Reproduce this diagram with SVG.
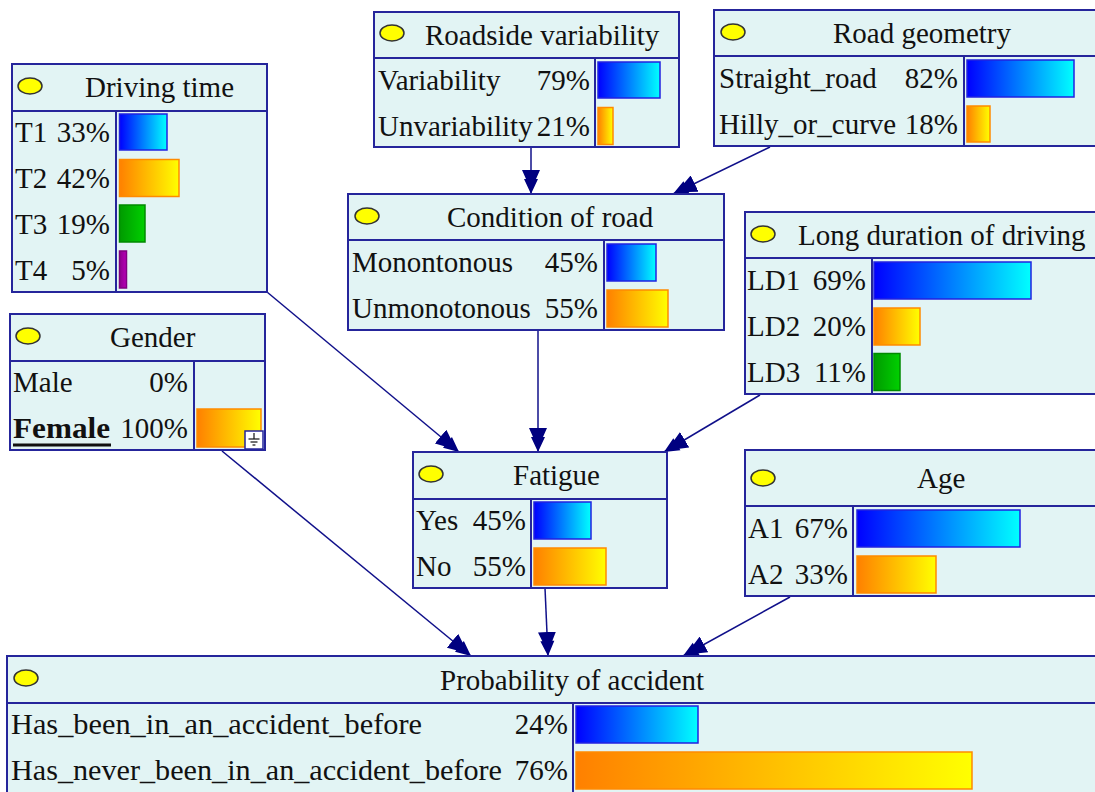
<svg xmlns="http://www.w3.org/2000/svg" width="1095" height="792" viewBox="0 0 1095 792">
<defs>
<linearGradient id="gb" x1="0" y1="0" x2="1" y2="0"><stop offset="0" stop-color="#0000ff"/><stop offset="1" stop-color="#00ffff"/></linearGradient>
<linearGradient id="go" x1="0" y1="0" x2="1" y2="0"><stop offset="0" stop-color="#ff8000"/><stop offset="1" stop-color="#ffff00"/></linearGradient>
<linearGradient id="gg" x1="0" y1="0" x2="1" y2="0"><stop offset="0" stop-color="#009a00"/><stop offset="1" stop-color="#00d000"/></linearGradient>
<linearGradient id="gp" x1="0" y1="0" x2="1" y2="0"><stop offset="0" stop-color="#8c008c"/><stop offset="1" stop-color="#b800b8"/></linearGradient>
<marker id="ah" markerUnits="userSpaceOnUse" viewBox="0 0 24 18" markerWidth="24" markerHeight="18" refX="24" refY="9" orient="auto">
<polygon points="0,0 9,4 9,2 24,9 9,16 9,14 0,18" fill="#000080"/>
</marker>
<style>
.box{fill:#e2f4f4;stroke:#25259b;stroke-width:2}
.dv{stroke:#25259b;stroke-width:2}
.t{font-family:"Liberation Serif","Times New Roman",serif;font-size:29px;fill:#111}
.e{text-anchor:end}
.ell{fill:#ffff00;stroke:#333333;stroke-width:1.5}
.b{fill:url(#gb);stroke:#2222e0;stroke-width:1.5}
.o{fill:url(#go);stroke:#ff8a00;stroke-width:1.5}
.g{fill:url(#gg);stroke:#008a00;stroke-width:1.5}
.p{fill:url(#gp);stroke:#800080;stroke-width:1.5}
.c{fill:none;stroke:#10108a;stroke-width:1.5;marker-end:url(#ah)}
</style>
</defs>
<rect width="1095" height="792" fill="#ffffff"/>

<g id="connectors">
<line class="c" x1="531" y1="147" x2="531" y2="194"/>
<line class="c" x1="770" y1="147" x2="673" y2="194"/>
<line class="c" x1="267" y1="292" x2="459" y2="452"/>
<line class="c" x1="538" y1="330" x2="538" y2="452"/>
<line class="c" x1="760" y1="395" x2="664" y2="452"/>
<line class="c" x1="222" y1="451" x2="471" y2="656"/>
<line class="c" x1="545" y1="588" x2="548" y2="656"/>
<line class="c" x1="790" y1="597" x2="683" y2="656"/>
</g>

<g id="driving-time">
<rect class="box" x="12" y="64" width="255" height="228"/>
<line class="dv" x1="12" y1="111" x2="267" y2="111"/>
<line class="dv" x1="116" y1="111" x2="116" y2="292"/>
<ellipse class="ell" cx="30" cy="86" rx="12" ry="8"/>
<text class="t" x="85" y="97">Driving time</text>
<text class="t" x="15" y="142">T1</text><text class="t e" x="110" y="142">33%</text>
<text class="t" x="15" y="188">T2</text><text class="t e" x="110" y="188">42%</text>
<text class="t" x="15" y="234">T3</text><text class="t e" x="110" y="234">19%</text>
<text class="t" x="15" y="280">T4</text><text class="t e" x="110" y="280">5%</text>
<rect class="b" x="119.5" y="114" width="47.5" height="36"/>
<rect class="o" x="119.5" y="159.5" width="59.5" height="37"/>
<rect class="g" x="119.5" y="205" width="25.5" height="37"/>
<rect class="p" x="119.5" y="251" width="7" height="37"/>
</g>

<g id="roadside-variability">
<rect class="box" x="374" y="12" width="305" height="135"/>
<line class="dv" x1="374" y1="58" x2="679" y2="58"/>
<line class="dv" x1="595" y1="58" x2="595" y2="147"/>
<ellipse class="ell" cx="392" cy="33" rx="12" ry="8"/>
<text class="t" x="425" y="45">Roadside variability</text>
<text class="t" x="378" y="90">Variability</text><text class="t e" x="590" y="90">79%</text>
<text class="t" x="378" y="136">Unvariability</text><text class="t e" x="590" y="136">21%</text>
<rect class="b" x="598" y="62" width="62" height="36"/>
<rect class="o" x="598" y="107.5" width="15" height="37"/>
</g>

<g id="road-geometry">
<rect class="box" x="714" y="10" width="400" height="136"/>
<line class="dv" x1="714" y1="56" x2="1114" y2="56"/>
<line class="dv" x1="964" y1="56" x2="964" y2="146"/>
<ellipse class="ell" cx="733" cy="32" rx="12" ry="8"/>
<text class="t" x="833" y="43">Road geometry</text>
<text class="t" x="719" y="88">Straight_road</text><text class="t e" x="958" y="88">82%</text>
<text class="t" x="719" y="134">Hilly_or_curve</text><text class="t e" x="958" y="134">18%</text>
<rect class="b" x="967" y="60" width="107" height="37"/>
<rect class="o" x="967" y="106" width="23" height="36"/>
</g>

<g id="condition-of-road">
<rect class="box" x="348" y="194" width="376" height="136"/>
<line class="dv" x1="348" y1="240" x2="724" y2="240"/>
<line class="dv" x1="604" y1="240" x2="604" y2="330"/>
<ellipse class="ell" cx="367" cy="216" rx="12" ry="8"/>
<text class="t" x="447" y="227">Condition of road</text>
<text class="t" x="352" y="272">Monontonous</text><text class="t e" x="598" y="272">45%</text>
<text class="t" x="352" y="318">Unmonotonous</text><text class="t e" x="598" y="318">55%</text>
<rect class="b" x="607" y="244" width="49" height="37"/>
<rect class="o" x="607" y="290" width="61" height="37"/>
</g>

<g id="long-duration-of-driving">
<rect class="box" x="745" y="212" width="400" height="182"/>
<line class="dv" x1="745" y1="258" x2="1145" y2="258"/>
<line class="dv" x1="872" y1="258" x2="872" y2="394"/>
<ellipse class="ell" cx="763" cy="234" rx="12" ry="8"/>
<text class="t" x="798" y="245">Long duration of driving</text>
<text class="t" x="747" y="290">LD1</text><text class="t e" x="866" y="290">69%</text>
<text class="t" x="747" y="336">LD2</text><text class="t e" x="866" y="336">20%</text>
<text class="t" x="747" y="382">LD3</text><text class="t e" x="866" y="382">11%</text>
<rect class="b" x="874" y="262" width="157" height="37"/>
<rect class="o" x="874" y="308" width="46" height="37"/>
<rect class="g" x="874" y="353.5" width="26" height="37"/>
</g>

<g id="gender">
<rect class="box" x="10" y="314" width="255" height="136"/>
<line class="dv" x1="10" y1="361" x2="265" y2="361"/>
<line class="dv" x1="194" y1="361" x2="194" y2="450"/>
<ellipse class="ell" cx="28" cy="336" rx="12" ry="8"/>
<text class="t" x="110" y="347">Gender</text>
<text class="t" x="13" y="392">Male</text><text class="t e" x="188" y="392">0%</text>
<text class="t" x="13" y="438" font-weight="bold" textLength="97" lengthAdjust="spacingAndGlyphs">Female</text><text class="t e" x="188" y="438">100%</text>
<line x1="13" y1="445" x2="111" y2="445" stroke="#111" stroke-width="3"/>
<rect class="o" x="197" y="409" width="64" height="38"/>
<rect x="245" y="431" width="18" height="18" fill="#ffffff" stroke="#25259b" stroke-width="1.5"/>
<g stroke="#111" stroke-width="1.2">
<line x1="254" y1="433" x2="254" y2="439"/>
<line x1="248.5" y1="439" x2="259.5" y2="439"/>
<line x1="250.5" y1="442" x2="257.5" y2="442"/>
<line x1="252.5" y1="445" x2="255.5" y2="445"/>
</g>
</g>

<g id="fatigue">
<rect class="box" x="413" y="452" width="254" height="136"/>
<line class="dv" x1="413" y1="499" x2="667" y2="499"/>
<line class="dv" x1="531" y1="499" x2="531" y2="588"/>
<ellipse class="ell" cx="431" cy="474" rx="12" ry="8"/>
<text class="t" x="513" y="485">Fatigue</text>
<text class="t" x="416" y="530">Yes</text><text class="t e" x="526" y="530">45%</text>
<text class="t" x="416" y="576">No</text><text class="t e" x="526" y="576">55%</text>
<rect class="b" x="534" y="502" width="57" height="37"/>
<rect class="o" x="534" y="548" width="72" height="37"/>
</g>

<g id="age">
<rect class="box" x="745" y="450" width="400" height="146"/>
<line class="dv" x1="745" y1="506" x2="1145" y2="506"/>
<line class="dv" x1="853" y1="506" x2="853" y2="596"/>
<ellipse class="ell" cx="763" cy="478" rx="12" ry="8"/>
<text class="t" x="917" y="488">Age</text>
<text class="t" x="748" y="538">A1</text><text class="t e" x="848" y="538">67%</text>
<text class="t" x="748" y="584">A2</text><text class="t e" x="848" y="584">33%</text>
<rect class="b" x="857" y="510" width="163" height="37"/>
<rect class="o" x="857" y="556" width="79" height="37"/>
</g>

<g id="probability-of-accident">
<rect class="box" x="7" y="656" width="1100" height="150"/>
<line class="dv" x1="7" y1="703" x2="1107" y2="703"/>
<line class="dv" x1="573" y1="703" x2="573" y2="806"/>
<ellipse class="ell" cx="26" cy="678" rx="12" ry="8"/>
<text class="t" x="440" y="690">Probability of accident</text>
<text class="t" x="11" y="734" textLength="411" lengthAdjust="spacingAndGlyphs">Has_been_in_an_accident_before</text><text class="t e" x="568" y="734">24%</text>
<text class="t" x="11" y="780" textLength="491" lengthAdjust="spacingAndGlyphs">Has_never_been_in_an_accident_before</text><text class="t e" x="568" y="780">76%</text>
<rect class="b" x="576" y="706" width="122" height="37"/>
<rect class="o" x="576" y="752" width="396" height="37"/>
</g>
</svg>
